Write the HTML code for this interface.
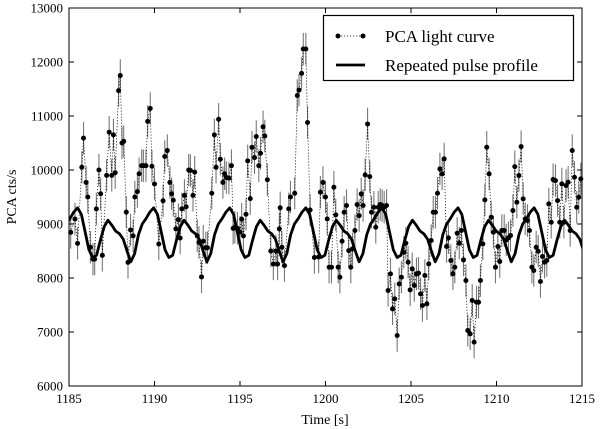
<!DOCTYPE html>
<html><head><meta charset="utf-8"><style>
body{margin:0;background:#fff;font-family:"Liberation Serif","DejaVu Serif",serif;}
svg{display:block;}
text{font-family:"Liberation Serif","DejaVu Serif",serif;}
</style></head><body>
<svg id="chart" width="600" height="429" font-family="Liberation Serif, DejaVu Serif, serif"></svg>
<script>
const xTicks=[1185,1190,1195,1200,1205,1210,1215];
const yTicks=[6000,7000,8000,9000,10000,11000,12000,13000];
const times=[1185.1,1185.35,1185.5,1185.75,1185.85,1186.0,1186.1,1186.25,1186.4,1186.5,1186.6,1186.75,1186.85,1186.95,1187.2,1187.35,1187.5,1187.6,1187.7,1187.9,1188.0,1188.1,1188.2,1188.35,1188.45,1188.6,1188.75,1188.85,1189.0,1189.1,1189.25,1189.35,1189.5,1189.6,1189.75,1189.85,1190.0,1190.25,1190.5,1190.6,1190.75,1190.9,1191.0,1191.1,1191.25,1191.4,1191.5,1191.6,1191.75,1191.85,1192.0,1192.1,1192.25,1192.35,1192.5,1192.6,1192.75,1192.85,1193.0,1193.1,1193.35,1193.5,1193.6,1193.75,1193.85,1194.0,1194.1,1194.2,1194.35,1194.5,1194.6,1194.7,1194.85,1195.0,1195.1,1195.2,1195.35,1195.45,1195.6,1195.7,1195.85,1195.95,1196.1,1196.2,1196.35,1196.45,1196.6,1196.8,1196.95,1197.1,1197.2,1197.3,1197.35,1197.45,1197.6,1197.85,1197.95,1198.2,1198.35,1198.45,1198.6,1198.7,1198.85,1198.95,1199.1,1199.35,1199.6,1199.7,1199.85,1200.0,1200.1,1200.21,1200.35,1200.49,1200.6,1200.74,1200.84,1200.97,1201.09,1201.23,1201.36,1201.48,1201.58,1201.72,1201.85,1201.97,1202.09,1202.2,1202.32,1202.46,1202.59,1202.69,1202.83,1202.94,1203.08,1203.2,1203.31,1203.43,1203.57,1203.66,1203.8,1203.92,1204.05,1204.19,1204.31,1204.44,1204.58,1204.7,1204.83,1204.95,1205.07,1205.19,1205.32,1205.44,1205.56,1205.67,1205.81,1205.93,1206.04,1206.18,1206.3,1206.43,1206.55,1206.69,1206.82,1206.94,1207.08,1207.19,1207.33,1207.45,1207.56,1207.7,1207.82,1207.95,1208.07,1208.21,1208.32,1208.46,1208.58,1208.69,1208.83,1208.95,1209.06,1209.2,1209.32,1209.43,1209.57,1209.69,1209.82,1209.94,1210.08,1210.19,1210.31,1210.45,1210.57,1210.7,1210.82,1210.96,1211.07,1211.19,1211.31,1211.44,1211.56,1211.68,1211.81,1211.93,1212.07,1212.18,1212.32,1212.44,1212.57,1212.69,1212.81,1212.94,1213.06,1213.2,1213.31,1213.45,1213.57,1213.7,1213.82,1213.94,1214.07,1214.19,1214.31,1214.43,1214.56,1214.69,1214.81,1214.93];
const counts=[8846,9093,8642,10050,10590,9770,9500,8570,8350,8350,9280,10000,9560,8420,9900,10700,9900,10650,9950,11470,11750,10500,10530,9220,8290,8890,8780,9500,9600,9930,10080,10080,10080,10900,11140,10070,9740,8630,9430,10250,10360,9770,9560,9440,8910,9080,8740,9280,9530,9320,10000,9990,9530,9960,8780,8660,8020,8680,8560,8560,9570,10650,10050,10940,10200,9770,9930,9860,9850,10080,8920,8940,8920,8850,9090,8780,9180,10170,9470,10420,10230,10620,10080,10310,10800,10630,9820,8500,8260,8500,8260,8910,9300,8570,8230,9280,9500,9570,11380,11480,11790,12240,12240,10880,9260,8380,8390,9590,9770,9500,9095,8200,8200,9681,9169,8200,8015,8681,9218,9342,8508,8200,8539,8879,9360,9156,9557,9342,9909,10853,9878,9218,9311,8940,9311,9360,9342,9311,9342,7768,8077,7429,7614,6935,7892,8015,8478,8644,8293,7780,8169,7861,8077,8089,7706,7490,8046,7521,8262,8694,9218,9218,9570,10020,9928,10205,8583,8743,8324,8077,8200,8829,8644,8879,8336,7953,7028,6966,7583,6812,7552,7552,7953,8632,9446,10421,9928,9126,8848,8200,8583,8305,8879,8879,8705,8743,8786,9249,10063,9403,9897,10434,9465,9095,9064,8879,8200,8139,8570,8496,7935,8398,8293,8324,9372,9033,9823,9804,9434,9033,9742,9033,9712,9773,8879,10360,9866,9311,9496,9835];
const errors=[300];
const pulseProfile=[9300,9180,8850,8520,8380,8420,8700,8950,9070,8980,8870,8820,8720,8500,8300,8450,8800,9000,9100,9220];
const pulsePeriod=[4.45];
const pulsePeakTime=[1185.5];

const L=69,R=582,T=8,B=386,NS="http://www.w3.org/2000/svg";
const FF="Liberation Serif, DejaVu Serif, serif";
const sx=t=>L+(t-1185)/(1215-1185)*(R-L);
const sy=v=>B-(v-6000)/(13000-6000)*(B-T);
const svg=document.getElementById('chart');
function mk(tag,attrs,parent){const e=document.createElementNS(NS,tag);for(const k in attrs)e.setAttribute(k,attrs[k]);(parent||svg).appendChild(e);return e;}

const eg=mk('g',{});


times.forEach((t,i)=>{const l=mk('line',{x1:sx(t),x2:sx(t),y1:sy(counts[i]-errors[0]),y2:sy(counts[i]+errors[0]),stroke:'#777','stroke-width':1.1},eg);

});
const dl=mk('polyline',{points:times.map((t,i)=>sx(t)+','+sy(counts[i])).join(' '),fill:'none',stroke:'#000','stroke-width':0.7,'stroke-dasharray':'1.2,1.8'});


const per=pulsePeriod[0],n=pulseProfile.length,pts=[];
for(let k=-1;;k++){let done=false;for(let j=0;j<n;j++){const t=pulsePeakTime[0]+k*per+j*per/n;if(t<1185-0.3)continue;if(t>1215+0.3){done=true;break;}pts.push([t,pulseProfile[j]]);}if(done)break;}
const clip=mk('clipPath',{id:'pc'});mk('rect',{x:L,y:T,width:R-L,height:B-T},clip);
const pl=mk('polyline',{points:pts.map(p=>sx(p[0])+','+sy(p[1])).join(' '),fill:'none',stroke:'#000','stroke-width':2.8,'stroke-linejoin':'round','clip-path':'url(#pc)'});


const pg=mk('g',{});


times.forEach((t,i)=>{const c=mk('circle',{cx:sx(t),cy:sy(counts[i]),r:2.5,fill:'#000'},pg);

});
const fr=mk('rect',{x:L,y:T,width:R-L,height:B-T,fill:'none',stroke:'#000','stroke-width':1});


xTicks.forEach(v=>{const x=sx(v);mk('line',{x1:x,x2:x,y1:B,y2:B-5,stroke:'#000'});mk('line',{x1:x,x2:x,y1:T,y2:T+5,stroke:'#000'});
const tx=mk('text',{x:x,y:403,'font-size':13,'text-anchor':'middle','font-family':FF});tx.textContent=v;

});
yTicks.forEach(v=>{const y=sy(v);mk('line',{x1:L,x2:L+5,y1:y,y2:y,stroke:'#000'});mk('line',{x1:R,x2:R-5,y1:y,y2:y,stroke:'#000'});
const tx=mk('text',{x:63,y:y+4.5,'font-size':13,'text-anchor':'end','font-family':FF});tx.textContent=v;

});
</script>
<svg width="600" height="429" style="position:absolute;left:0;top:0" font-family="Liberation Serif, DejaVu Serif, serif">
<text x="325" y="424" font-size="14" text-anchor="middle" font-family="Liberation Serif, DejaVu Serif, serif">Time [s]</text>
<text x="0" y="0" font-size="14" text-anchor="middle" font-family="Liberation Serif, DejaVu Serif, serif" transform="translate(16,197) rotate(-90)">PCA cts/s</text>
<g>
<rect x="323.5" y="15.5" width="250" height="65" fill="#fff" stroke="#000" stroke-width="1.2"/>
<line x1="338" x2="363" y1="36" y2="36" stroke="#000" stroke-width="0.8" stroke-dasharray="1.2,1.8"/>
<circle cx="338" cy="36" r="2.5"/><circle cx="363" cy="36" r="2.5"/>
<text x="385" y="42" font-size="17" font-family="Liberation Serif, DejaVu Serif, serif">PCA light curve</text>
<line x1="336" x2="365" y1="65" y2="65" stroke="#000" stroke-width="2.8"/>
<text x="385" y="71" font-size="17" font-family="Liberation Serif, DejaVu Serif, serif">Repeated pulse profile</text>
</g>
</svg>
</body></html>
